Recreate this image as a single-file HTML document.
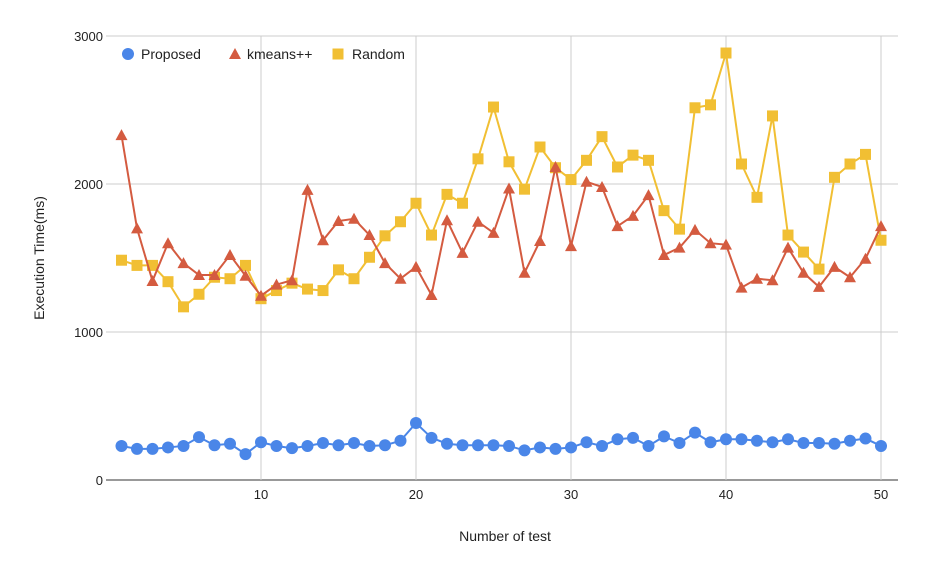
<!DOCTYPE html>
<html><head><meta charset="utf-8"><style>
body{margin:0;background:#fff;font-family:"Liberation Sans",Arial,sans-serif}
svg text{font-family:"Liberation Sans",Arial,sans-serif}
</style></head><body>
<svg id="chart" width="928" height="575" xmlns="http://www.w3.org/2000/svg"></svg>
<script>
const tests=[];for(let i=1;i<=50;i++)tests.push(i);
const proposed=[230,210,210,220,230,290,235,245,175,255,230,215,230,250,235,250,230,235,265,385,285,245,235,235,235,230,200,220,210,220,255,230,275,285,230,295,250,320,255,275,275,265,255,275,250,250,245,265,280,230];
const kmeans=[2330,1700,1345,1600,1465,1385,1385,1520,1380,1245,1320,1350,1960,1620,1750,1765,1655,1465,1360,1440,1250,1755,1535,1745,1670,1970,1400,1615,2115,1580,2015,1980,1715,1785,1925,1520,1570,1690,1600,1590,1300,1360,1350,1570,1400,1305,1440,1370,1495,1715];
const random=[1485,1450,1450,1340,1170,1255,1370,1360,1450,1225,1280,1330,1290,1280,1420,1360,1505,1650,1745,1870,1655,1930,1870,2170,2520,2150,1965,2250,2110,2030,2160,2320,2115,2195,2160,1820,1695,2515,2535,2885,2135,1910,2460,1655,1540,1425,2045,2135,2200,1620];
const yTicks=[0,1000,2000,3000];
const xTicks=[10,20,30,40,50];
const NS="http://www.w3.org/2000/svg";
const svg=document.getElementById('chart');
const L=106,R=898,T=36,B=480;
const X=v=>L+v*15.5;
const Y=v=>B-v*0.148;
function mk(tag,attrs,parent){const e=document.createElementNS(NS,tag);for(const k in attrs)e.setAttribute(k,attrs[k]);(parent||svg).appendChild(e);return e;}
yTicks.forEach(t=>{
  const g=mk('line',{x1:L,x2:R,y1:Y(t),y2:Y(t),stroke:t===0?'#333':'#ccc','stroke-width':1});
  
  
  const tx=mk('text',{x:103,y:Y(t)+5,'text-anchor':'end','font-size':13,fill:'#222'});
  tx.textContent=t;
  
  
});
xTicks.forEach(t=>{
  const g=mk('line',{x1:X(t),x2:X(t),y1:T,y2:B,stroke:'#ccc','stroke-width':1});
  
  
  const tx=mk('text',{x:X(t),y:499,'text-anchor':'middle','font-size':13,fill:'#222'});
  tx.textContent=t;
  
  
});
function series(vals,color,shape,name){
  const pts=vals.map((v,i)=>[X(tests[i]),Y(v)]);
  const p=mk('polyline',{points:pts.map(p=>p.join(',')).join(' '),fill:'none',stroke:color,'stroke-width':2});
  
  
  pts.forEach(([x,y])=>{
    let m;
    if(shape==='circle')m=mk('circle',{cx:x,cy:y,r:6,fill:color});
    else if(shape==='tri')m=mk('polygon',{points:`${x},${y-6} ${x-6},${y+5} ${x+6},${y+5}`,fill:color});
    else m=mk('rect',{x:x-5.5,y:y-5.5,width:11,height:11,fill:color});
    
    
  });
}
series(random,'#f1bf33','sq','random');
series(kmeans,'#d45b40','tri','kmeans');
series(proposed,'#4a86e8','circle','proposed');
// legend
const lg=[['Proposed','#4a86e8','circle',128,141],['kmeans++','#d45b40','tri',235,247],['Random','#f1bf33','sq',338,352]];
lg.forEach(([lab,c,s,mx,tx])=>{
  let m;
  if(s==='circle')m=mk('circle',{cx:mx,cy:54,r:6,fill:c});
  else if(s==='tri')m=mk('polygon',{points:`${mx},${48} ${mx-6},${59} ${mx+6},${59}`,fill:c});
  else m=mk('rect',{x:mx-5.5,y:48.5,width:11,height:11,fill:c});
  
  
  const t=mk('text',{x:tx,y:59,'font-size':14,fill:'#222'});
  t.textContent=lab;
  
  
});
const xt=mk('text',{x:505,y:541,'text-anchor':'middle','font-size':14,fill:'#222'});
xt.textContent='Number of test';


const yt=mk('text',{x:0,y:0,'text-anchor':'middle','font-size':14,fill:'#222',transform:'translate(44,258) rotate(-90)'});
yt.textContent='Execution Time(ms)';


</script>
</body></html>
